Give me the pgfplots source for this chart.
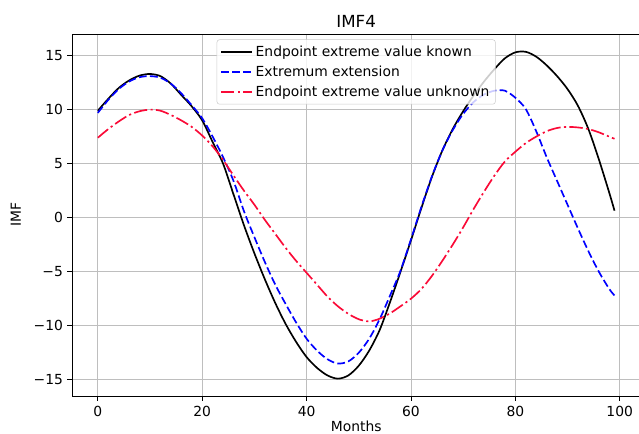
\documentclass[border=0pt]{standalone}
\usepackage{pgfplots}
\pgfplotsset{compat=1.18}
\usepackage{fontspec}
\setmainfont{DejaVu Sans}

\definecolor{gridgray}{RGB}{190,190,190}
\definecolor{legedge}{RGB}{204,204,204}
\definecolor{imfred}{RGB}{250,10,55}

\begin{document}
\begin{tikzpicture}
\begin{axis}[
  name=ax,
  scale only axis,
  width=426.3pt, height=271.5pt,
  xmin=-4.95, xmax=103.95,
  ymin=-16.5, ymax=17,
  xtick={0,20,40,60,80,100},
  xticklabels={0,20,40,60,80,100},
  ytick={-15,-10,-5,0,5,10,15},
  yticklabels={−15,−10,−5,0,5,10,15},
  tick pos=left,
  tick align=outside,
  major tick length=3.6pt,
  every tick/.style={black, line width=0.6pt},
  axis line style={line width=0.6pt},
  grid=major,
  major grid style={gridgray, line width=0.6pt},
  tick label style={font=\fontsize{10.4}{12}\selectfont, inner sep=1pt},
  xticklabel style={yshift=-3pt},
  yticklabel style={xshift=-2pt},
  label style={font=\fontsize{10.4}{12}\selectfont},
  title={IMF4},
  title style={font=\fontsize{12.5}{14}\selectfont, yshift=-4.5pt},
  xlabel={Months},
  ylabel={IMF},
  xlabel style={yshift=1.5pt},
  ylabel style={yshift=5pt},
  legend style={at={(0.5,0.985)}, anchor=north,
    font=\fontsize{10.4}{12}\selectfont,
    draw=legedge, fill=white, fill opacity=0.8, text opacity=1,
    rounded corners=2pt, row sep=1.6pt, inner sep=2.5pt},
  legend cell align=left,
  legend image code/.code={\draw[#1] (0cm,0cm) -- (0.82cm,0cm);},
  every axis plot/.append style={smooth, tension=0.5},
]
\addplot[black, line width=1.25pt] coordinates {
(0,9.9) (2,11.0) (4,12.0) (6,12.7) (8,13.15) (10,13.3) (12,13.1) (14,12.4)
(16,11.35) (18,10.3) (20,9.0) (22,7.0) (24,5.0) (26,2.15) (28,-0.7) (30,-3.3)
(32,-5.7) (34,-7.9) (36,-9.85) (38,-11.5) (40,-12.9) (42,-13.9) (44,-14.6)
(46,-14.9) (48,-14.6) (50,-13.7) (52,-12.3) (54,-10.4) (56,-7.8) (58,-5.0)
(60,-2.1) (62,0.9) (64,3.75) (66,6.2) (68,8.2) (70,9.85) (72,11.3) (74,12.6)
(76,13.75) (78,14.75) (80,15.3) (82,15.35) (84,14.9) (86,14.1) (88,13.1)
(90,11.9) (92,10.35) (94,8.2) (96,5.4) (98,2.3) (99,0.65)
};
\addlegendentry{Endpoint extreme value known}
\addplot[blue, line width=1.25pt, dash pattern=on 5.8pt off 2.5pt] coordinates {
(0,9.7) (2,10.9) (4,11.9) (6,12.6) (8,13.0) (10,13.1) (12,12.95) (14,12.4)
(16,11.5) (18,10.4) (20,9.2) (22,7.5) (24,5.6) (26,3.4) (28,0.6) (30,-1.8)
(32,-4.1) (34,-6.2) (36,-8.0) (38,-9.7) (40,-11.2) (42,-12.3) (44,-13.1)
(46,-13.5) (48,-13.3) (50,-12.5) (52,-11.2) (54,-9.4) (56,-7.2) (58,-4.9)
(60,-2.0) (62,1.0) (64,3.8) (66,6.2) (68,8.1) (70,9.6) (72,10.7) (74,11.4)
(76,11.75) (78,11.75) (80,11.1) (82,10.05) (84,8.0) (86,5.6) (88,3.4)
(90,1.2) (92,-1.0) (94,-3.1) (96,-5.0) (98,-6.6) (99,-7.2)
};
\addlegendentry{Extremum extension}
\addplot[imfred, line width=1.25pt, dash pattern=on 10pt off 2.5pt on 1.6pt off 2.5pt] coordinates {
(0,7.4) (2,8.2) (4,8.9) (6,9.5) (8,9.85) (10,10.0) (12,9.9) (14,9.5)
(16,9.0) (18,8.4) (20,7.6) (22,6.6) (24,5.35) (26,3.9) (28,2.5) (30,1.2)
(32,-0.2) (34,-1.5) (36,-2.8) (38,-4.0) (40,-5.1) (42,-6.2) (44,-7.3)
(46,-8.2) (48,-8.9) (50,-9.4) (52,-9.6) (54,-9.35) (56,-8.85) (58,-8.2)
(60,-7.5) (62,-6.6) (64,-5.4) (66,-4.0) (68,-2.5) (70,-0.9) (72,0.8)
(74,2.4) (76,3.9) (78,5.2) (80,6.1) (82,6.9) (84,7.5) (86,8.0) (88,8.3)
(90,8.4) (92,8.35) (94,8.2) (96,7.9) (98,7.5) (99,7.3)
};
\addlegendentry{Endpoint extreme value unknown}
\end{axis}
\pgfresetboundingbox
\path ([xshift=-54pt,yshift=-28.5pt]ax.south west) rectangle ([xshift=-1pt,yshift=25.5pt]ax.north east);
\end{tikzpicture}
\end{document}
